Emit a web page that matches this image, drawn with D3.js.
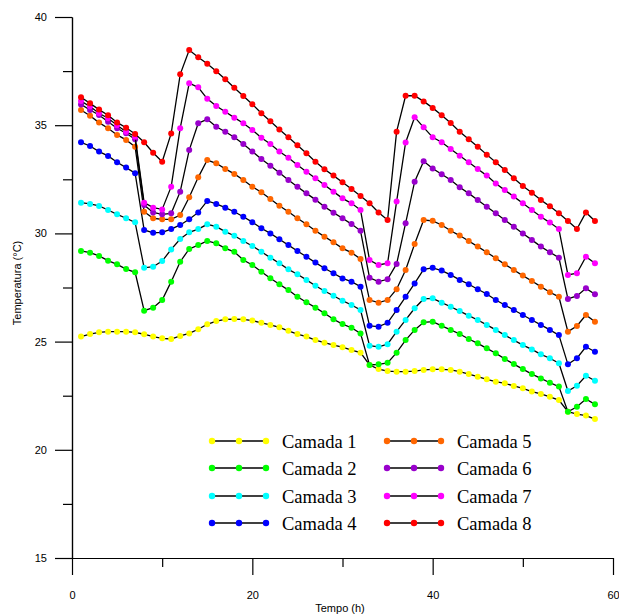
<!DOCTYPE html>
<html>
<head>
<meta charset="utf-8">
<script src="https://cdn.jsdelivr.net/npm/d3@7"></script>
<style>
  body { margin: 0; background: #fff; }
  .axis text, .title { font-family: "Liberation Sans", Arial, sans-serif; }
  .legend text { font-family: "Liberation Serif", "Times New Roman", serif; }
</style>
</head>
<body>
<div id="container"></div>
<script>
/**
 * CONSTANTS AND GLOBALS
 * */
const width = 619;
const height = 614;

// hours (x values)
const hours = [1, 2, 3, 4, 5, 6, 7, 8, 9, 10, 11, 12, 13, 14, 15, 16, 17, 18, 19, 20,
  21, 22, 23, 24, 25, 26, 27, 28, 29, 30, 31, 32, 33, 34, 35, 36, 37, 38, 39, 40,
  41, 42, 43, 44, 45, 46, 47, 48, 49, 50, 51, 52, 53, 54, 55, 56, 57, 58];

const camada1 = [25.23, 25.35, 25.43, 25.46, 25.46, 25.46, 25.43, 25.34, 25.23, 25.15,
  25.12, 25.26, 25.38, 25.57, 25.80, 25.95, 26.03, 26.04, 26.03, 25.97,
  25.87, 25.77, 25.66, 25.50, 25.35, 25.23, 25.07, 24.95, 24.84, 24.74,
  24.61, 24.49, 23.92, 23.73, 23.64, 23.61, 23.61, 23.64, 23.69, 23.72,
  23.72, 23.69, 23.61, 23.50, 23.38, 23.26, 23.15, 23.07, 22.95, 22.84,
  22.69, 22.58, 22.45, 22.30, 21.76, 21.65, 21.58, 21.42];
const camada2 = [29.19, 29.11, 28.96, 28.74, 28.57, 28.35, 28.20, 26.43, 26.57, 26.92,
  27.77, 28.69, 29.28, 29.46, 29.65, 29.54, 29.31, 29.15, 28.77, 28.54,
  28.23, 27.93, 27.65, 27.38, 27.07, 26.82, 26.57, 26.31, 26.03, 25.81,
  25.64, 25.38, 23.92, 23.95, 24.02, 24.49, 25.07, 25.54, 25.89, 25.92,
  25.73, 25.54, 25.35, 25.12, 24.92, 24.69, 24.46, 24.20, 23.96, 23.73,
  23.50, 23.30, 23.10, 22.92, 21.76, 21.99, 22.35, 22.10];
const camada3 = [31.42, 31.36, 31.27, 31.08, 30.88, 30.70, 30.51, 28.41, 28.46, 28.72,
  29.26, 29.74, 30.05, 30.20, 30.42, 30.31, 30.08, 29.89, 29.65, 29.42,
  29.15, 28.88, 28.62, 28.34, 28.11, 27.85, 27.58, 27.34, 27.12, 26.89,
  26.69, 26.46, 24.81, 24.76, 24.88, 25.46, 26.00, 26.54, 26.97, 27.00,
  26.80, 26.61, 26.41, 26.20, 26.00, 25.77, 25.54, 25.30, 25.07, 24.84,
  24.64, 24.41, 24.23, 24.00, 22.72, 22.96, 23.42, 23.19];
const camada4 = [34.21, 34.04, 33.78, 33.58, 33.29, 33.04, 32.78, 30.16, 30.03, 30.05,
  30.20, 30.39, 30.65, 30.97, 31.50, 31.36, 31.19, 31.00, 30.77, 30.52,
  30.24, 30.00, 29.73, 29.46, 29.19, 28.92, 28.65, 28.39, 28.16, 27.92,
  27.77, 27.54, 25.73, 25.69, 25.87, 26.46, 27.07, 27.69, 28.34, 28.41,
  28.28, 28.08, 27.85, 27.65, 27.42, 27.20, 26.92, 26.69, 26.46, 26.23,
  26.00, 25.77, 25.54, 25.30, 23.95, 24.23, 24.76, 24.53];
const camada5 = [35.70, 35.44, 35.12, 34.86, 34.55, 34.32, 34.00, 31.00, 30.70, 30.65,
  30.65, 30.85, 31.67, 32.59, 33.39, 33.24, 32.98, 32.75, 32.47, 32.16,
  31.90, 31.59, 31.28, 31.00, 30.70, 30.42, 30.12, 29.85, 29.59, 29.31,
  29.11, 28.82, 26.92, 26.80, 26.92, 27.42, 28.31, 29.51, 30.62, 30.58,
  30.39, 30.12, 29.90, 29.65, 29.39, 29.13, 28.85, 28.57, 28.31, 28.05,
  27.80, 27.54, 27.28, 27.07, 25.46, 25.72, 26.23, 25.92];
const camada6 = [35.96, 35.70, 35.47, 35.16, 34.86, 34.63, 34.35, 31.31, 30.97, 30.88,
  30.93, 31.93, 33.85, 35.09, 35.27, 34.93, 34.70, 34.44, 34.13, 33.78,
  33.44, 33.13, 32.80, 32.47, 32.16, 31.85, 31.56, 31.23, 30.96, 30.70,
  30.43, 30.12, 27.95, 27.77, 27.88, 28.59, 30.47, 32.39, 33.33, 33.00,
  32.73, 32.47, 32.13, 31.85, 31.54, 31.23, 30.93, 30.62, 30.31, 30.00,
  29.70, 29.39, 29.13, 28.88, 26.97, 27.11, 27.46, 27.19];
const camada7 = [36.12, 35.86, 35.55, 35.32, 35.00, 34.70, 34.47, 31.42, 31.19, 31.11,
  32.16, 34.86, 36.94, 36.75, 36.22, 35.89, 35.62, 35.35, 35.09, 34.78,
  34.42, 34.13, 33.78, 33.50, 33.16, 32.85, 32.55, 32.24, 31.93, 31.62,
  31.39, 31.08, 28.77, 28.54, 28.62, 31.47, 34.20, 35.37, 34.90, 34.44,
  34.21, 33.90, 33.59, 33.29, 32.98, 32.67, 32.31, 32.00, 31.70, 31.39,
  31.08, 30.77, 30.50, 30.20, 28.08, 28.16, 28.92, 28.62];
const camada8 = [36.29, 36.01, 35.72, 35.46, 35.13, 34.88, 34.59, 34.21, 33.73, 33.31,
  34.62, 37.35, 38.47, 38.14, 37.84, 37.49, 37.12, 36.73, 36.35, 35.97,
  35.55, 35.18, 34.80, 34.44, 34.07, 33.70, 33.31, 32.96, 32.67, 32.36,
  32.05, 31.73, 31.39, 30.97, 30.62, 34.70, 36.36, 36.36, 36.10, 35.80,
  35.46, 35.10, 34.70, 34.35, 34.00, 33.64, 33.29, 32.93, 32.55, 32.19,
  31.88, 31.54, 31.25, 30.93, 30.57, 30.20, 30.97, 30.57];

const seriesNames = ["Camada 1", "Camada 2", "Camada 3", "Camada 4",
  "Camada 5", "Camada 6", "Camada 7", "Camada 8"];
const seriesValues = [camada1, camada2, camada3, camada4, camada5, camada6, camada7, camada8];
const seriesColors = ["#ffff00", "#00ff00", "#00ffff", "#0000ff",
  "#ff6600", "#9900cc", "#ff00ff", "#ff0000"];

const xMajorTicks = [0, 20, 40, 60];
const xMinorTicks = [10, 30, 50];
const yMajorTicks = [15, 20, 25, 30, 35, 40];
const yMinorTicks = [17.5, 22.5, 27.5, 32.5, 37.5];

/**
 * INIT
 * */
const svg = d3.select("#container")
  .append("svg")
  .attr("width", width)
  .attr("height", height);

const x = d3.scaleLinear().domain([0, 60]).range([72, 613]);
const y = d3.scaleLinear().domain([15, 40]).range([558, 17]);

// axes - major ticks have labels, minor ones don't
svg.append("g")
  .attr("class", "axis")
  .attr("transform", `translate(0,${y(15)})`)
  .call(d3.axisBottom(x).tickValues(xMajorTicks).tickSize(17).tickPadding(16).tickSizeOuter(0));
svg.append("g")
  .attr("class", "axis")
  .attr("transform", `translate(0,${y(15)})`)
  .call(d3.axisBottom(x).tickValues(xMinorTicks).tickSize(9).tickFormat("").tickSizeOuter(0));

svg.append("g")
  .attr("class", "axis")
  .attr("transform", `translate(${x(0)},0)`)
  .call(d3.axisLeft(y).tickValues(yMajorTicks).tickSize(17).tickPadding(8).tickSizeOuter(0));
svg.append("g")
  .attr("class", "axis")
  .attr("transform", `translate(${x(0)},0)`)
  .call(d3.axisLeft(y).tickValues(yMinorTicks).tickSize(9).tickFormat("").tickSizeOuter(0));

svg.selectAll(".domain, .tick line").attr("stroke", "#000").attr("stroke-width", 1.2);
svg.selectAll(".tick text")
  .attr("font-size", 11)
  .attr("fill", "#000");

// axis titles
svg.append("text")
  .attr("class", "title")
  .attr("x", 340)
  .attr("y", 612)
  .attr("text-anchor", "middle")
  .attr("font-size", 11)
  .text("Tempo (h)");

svg.append("text")
  .attr("class", "title")
  .attr("transform", "translate(21,283) rotate(-90)")
  .attr("text-anchor", "middle")
  .attr("font-size", 11)
  .text("Temperatura (°C)");

// lines + markers
const line = d3.line()
  .x((d, i) => x(hours[i]))
  .y(d => y(d));

const layers = svg.selectAll("g.serie")
  .data(seriesValues)
  .join("g")
  .attr("class", "serie");

layers.append("path")
  .attr("d", d => line(d))
  .attr("fill", "none")
  .attr("stroke", "#000")
  .attr("stroke-width", 1.3);

layers.each(function (vals, k) {
  d3.select(this).selectAll("circle")
    .data(vals)
    .join("circle")
    .attr("cx", (d, i) => x(hours[i]))
    .attr("cy", d => y(d))
    .attr("r", 3)
    .attr("fill", seriesColors[k]);
});

// legend, two columns of four
const legend = svg.append("g").attr("class", "legend");
const legendRows = [441, 468, 496, 523];
const legendCols = [212, 387];

seriesNames.forEach((name, k) => {
  const col = Math.floor(k / 4);
  const row = k % 4;
  const g = legend.append("g")
    .attr("transform", `translate(${legendCols[col]},${legendRows[row]})`);
  g.append("line")
    .attr("x1", 0).attr("x2", 54)
    .attr("stroke", "#000").attr("stroke-width", 1.3);
  g.selectAll("circle")
    .data([0, 27, 54])
    .join("circle")
    .attr("cx", d => d)
    .attr("r", 3.2)
    .attr("fill", seriesColors[k]);
  g.append("text")
    .attr("x", 70)
    .attr("y", 6.5)
    .attr("font-size", 18.5)
    .attr("fill", "#000")
    .text(name);
});
</script>
</body>
</html>
